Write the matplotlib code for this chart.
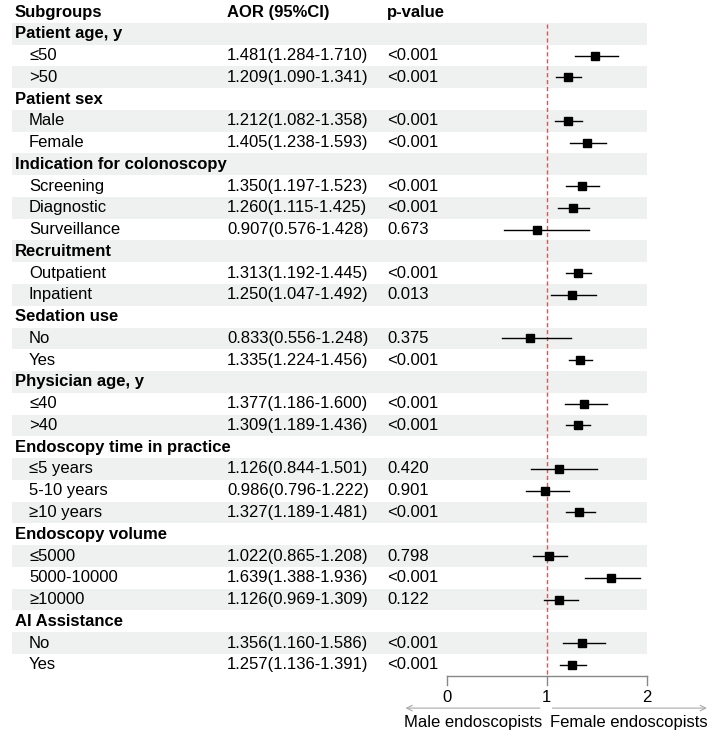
import matplotlib.pyplot as plt
import matplotlib.transforms as mtransforms

plt.rcParams['font.family'] = ['Liberation Sans', 'DejaVu Sans']

labels = ["Patient age, y", "≤50", ">50",
          "Patient sex", "Male", "Female",
          "Indication for colonoscopy", "Screening", "Diagnostic", "Surveillance",
          "Recruitment", "Outpatient", "Inpatient",
          "Sedation use", "No", "Yes",
          "Physician age, y", "≤40", ">40",
          "Endoscopy time in practice", "≤5 years", "5-10 years", "≥10 years",
          "Endoscopy volume", "≤5000", "5000-10000", "≥10000",
          "AI Assistance", "No", "Yes"]
is_group = [1, 0, 0, 1, 0, 0, 1, 0, 0, 0, 1, 0, 0, 1, 0, 0,
            1, 0, 0, 1, 0, 0, 0, 1, 0, 0, 0, 1, 0, 0]
aor = [None, 1.481, 1.209, None, 1.212, 1.405, None, 1.350, 1.260, 0.907,
       None, 1.313, 1.250, None, 0.833, 1.335, None, 1.377, 1.309,
       None, 1.126, 0.986, 1.327, None, 1.022, 1.639, 1.126, None, 1.356, 1.257]
lo = [None, 1.284, 1.090, None, 1.082, 1.238, None, 1.197, 1.115, 0.576,
      None, 1.192, 1.047, None, 0.556, 1.224, None, 1.186, 1.189,
      None, 0.844, 0.796, 1.189, None, 0.865, 1.388, 0.969, None, 1.160, 1.136]
hi = [None, 1.710, 1.341, None, 1.358, 1.593, None, 1.523, 1.425, 1.428,
      None, 1.445, 1.492, None, 1.248, 1.456, None, 1.600, 1.436,
      None, 1.501, 1.222, 1.481, None, 1.208, 1.936, 1.309, None, 1.586, 1.391]
pvals = [None, "<0.001", "<0.001", None, "<0.001", "<0.001", None, "<0.001", "<0.001", "0.673",
         None, "<0.001", "0.013", None, "0.375", "<0.001", None, "<0.001", "<0.001",
         None, "0.420", "0.901", "<0.001", None, "0.798", "<0.001", "0.122", None, "<0.001", "<0.001"]
xticks = [0, 1, 2]

W, H = 715, 734
fig = plt.figure(figsize=(W / 100, H / 100), dpi=100)
ax = fig.add_axes([0, 0, 1, 1])
# 100 px per unit, x=0 at px 446.7 ; rows 21.76 px apart, header at px 12
x0, ppu = 446.7, 100.0
ax.set_xlim(-x0 / ppu, (W - x0) / ppu)
y0, rh = 12.0, 21.76
ax.set_ylim((H - y0) / rh, -y0 / rh)
ax.axis('off')

tr = mtransforms.blended_transform_factory(fig.transFigure, ax.transData)
fs = 12

# header
ax.text(15 / W, 0, "Subgroups", transform=tr, fontsize=fs, fontweight='bold', va='center')
ax.text(227 / W, 0, "AOR (95%CI)", transform=tr, fontsize=fs, fontweight='bold', va='center')
ax.text(387 / W, 0, "p-value", transform=tr, fontsize=fs, fontweight='bold', va='center')

n = len(labels)
for i in range(n):
    r = i + 1
    if i % 2 == 0:
        ax.axhspan(r - 0.5, r + 0.5, xmin=12 / W, xmax=647 / W, color='#eff1f0', lw=0, zorder=0)
    if is_group[i]:
        ax.text(15 / W, r, labels[i], transform=tr, fontsize=fs, fontweight='bold', va='center')
    else:
        ax.text(29 / W, r, labels[i], transform=tr, fontsize=fs, va='center')
        ax.text(227 / W, r, f"{aor[i]:.3f}({lo[i]:.3f}-{hi[i]:.3f})", transform=tr,
                fontsize=fs, va='center')
        ax.text(387 / W, r, pvals[i], transform=tr, fontsize=fs, va='center')
        ax.plot([lo[i], hi[i]], [r, r], color='black', lw=1.0, zorder=3)
        ax.plot(aor[i], r, marker='s', ms=6, color='black', zorder=4)

axis_y = n + 0.51
ax.plot([1, 1], [0.55, axis_y], color='#d05a55', lw=1.0, ls=(0, (3, 2)), zorder=2)

# bottom axis
ax.plot([xticks[0], xticks[-1]], [axis_y, axis_y], color='#888888', lw=1.0)
for t in xticks:
    ax.plot([t, t], [axis_y, axis_y + 0.42], color='#888888', lw=1.0)
    ax.text(t, axis_y + 0.97, str(t), fontsize=fs, ha='center', va='center')

arrow_y = axis_y + 1.48
ax.annotate("", xy=(-0.44, arrow_y), xytext=(0.96, arrow_y),
            arrowprops=dict(arrowstyle='->', color='#aaaaaa', lw=0.8))
ax.annotate("", xy=(2.63, arrow_y), xytext=(1.03, arrow_y),
            arrowprops=dict(arrowstyle='->', color='#aaaaaa', lw=0.8))
ax.text(0.96, axis_y + 2.12, "Male endoscopists", fontsize=fs, ha='right', va='center')
ax.text(1.03, axis_y + 2.12, "Female endoscopists", fontsize=fs, ha='left', va='center')

fig.savefig("out.png", dpi=100)
